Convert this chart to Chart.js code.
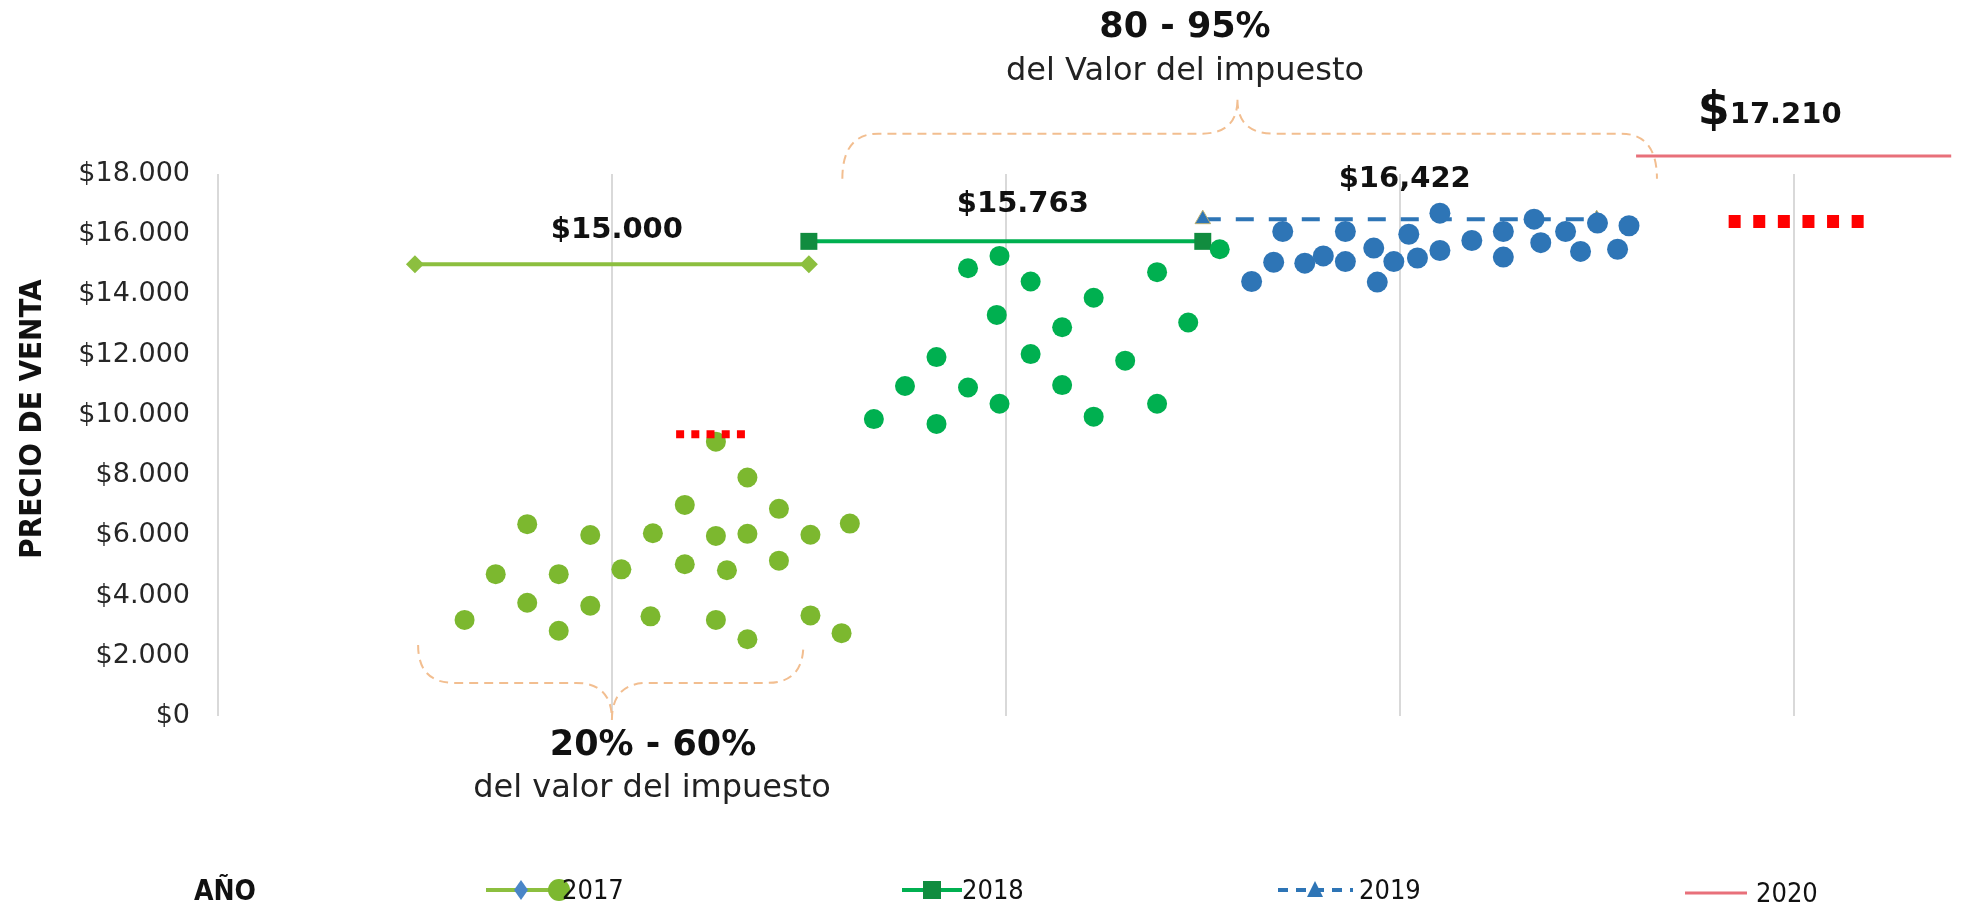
<!DOCTYPE html>
<html>
<head>
<meta charset="utf-8">
<script src="https://cdn.jsdelivr.net/npm/chart.js@4.4.0/dist/chart.umd.min.js"></script>
<style>
  html, body { margin: 0; padding: 0; background: #fff; overflow: hidden; }
  #wrap { width: 1964px; height: 910px; position: relative; }
  canvas { display: block; }
</style>
</head>
<body>
<div id="wrap"><canvas id="myChart"></canvas></div>
<script>
// series years and the average price line for each one
const years = ["2017", "2018", "2019", "2020"];
const lineStart = [0.5, 1.5, 2.5, 3.6];
const lineEnd = [1.5, 2.5, 3.5, 4.4];
const lineValue = [15000, 15763, 16500, 18600];
const lineLabels = ["$15.000", "$15.763", "$16,422", "$17.210"];

// red dotted marks
const redStart = [1.163, 3.835];
const redEnd = [1.339, 4.18];
const redValue = [9360, 16422];

// scatter of sales prices
const x2017 = [0.626, 0.705, 0.785, 0.785, 0.865, 0.865, 0.945, 0.945, 1.024, 1.104, 1.098, 1.185, 1.185,
  1.264, 1.264, 1.264, 1.292, 1.344, 1.344, 1.344, 1.424, 1.424, 1.504, 1.504, 1.583, 1.604];
const y2017 = [3190, 4710, 6370, 3760, 4710, 2830, 6010, 3660, 4870, 6070, 3310, 7010, 5040,
  5980, 3190, 9110, 4840, 7920, 6050, 2550, 6880, 5160, 6020, 3340, 2750, 6390];

const x2018 = [1.665, 1.744, 1.824, 1.824, 1.904, 1.904, 1.984, 1.977, 1.984, 2.063, 2.063, 2.143, 2.143,
  2.223, 2.223, 2.303, 2.384, 2.384, 2.463, 2.543];
const y2018 = [9860, 10960, 11920, 9700, 14870, 10910, 15280, 13320, 10370, 14430, 12020, 12910, 10990,
  13890, 9940, 11800, 14740, 10370, 13070, 15500];

const x2019 = [2.624, 2.680, 2.703, 2.759, 2.806, 2.862, 2.862, 2.934, 2.943, 2.985, 3.023, 3.045, 3.102,
  3.102, 3.183, 3.263, 3.263, 3.341, 3.358, 3.421, 3.459, 3.502, 3.582, 3.553];
const y2019 = [14430, 15070, 16090, 15040, 15280, 16090, 15090, 15540, 14410, 15090, 16000, 15210, 16700,
  15460, 15790, 16090, 15240, 16500, 15720, 16090, 15430, 16370, 16280, 15500];

const yTickValues = [0, 2000, 4000, 6000, 8000, 10000, 12000, 14000, 16000, 18000];
const xGridValues = [0, 1, 2, 3, 4];

function pts(xs, ys) {
  return xs.map((x, i) => ({ x: x, y: ys[i] }));
}

function fmt(v) {
  return "$" + String(v).replace(/\B(?=(\d{3})+(?!\d))/g, ".");
}

const lineColors = ["#8CBF3F", "#00B050", "#2E75B6", "#E8707A"];

// braces, labels, title and legend
const decor = {
  id: "decor",
  afterDraw(chart) {
    const ctx = chart.ctx;
    const xs = chart.scales.x;
    const ys = chart.scales.y;

    function brace(x1, x2, xt, yEnd, yMid, yTip, r) {
      ctx.beginPath();
      ctx.moveTo(x1, yEnd);
      ctx.quadraticCurveTo(x1, yMid, x1 + r, yMid);
      ctx.lineTo(xt - r, yMid);
      ctx.quadraticCurveTo(xt, yMid, xt, yTip);
      ctx.moveTo(xt, yTip);
      ctx.quadraticCurveTo(xt, yMid, xt + r, yMid);
      ctx.lineTo(x2 - r, yMid);
      ctx.quadraticCurveTo(x2, yMid, x2, yEnd);
      ctx.stroke();
    }

    ctx.save();
    ctx.strokeStyle = "#F2BE90";
    ctx.lineWidth = 2;
    ctx.setLineDash([9, 6]);
    brace(xs.getPixelForValue(0.508), xs.getPixelForValue(1.486), xs.getPixelForValue(1.0),
      ys.getPixelForValue(2360), ys.getPixelForValue(1100), ys.getPixelForValue(-130), 36);
    brace(xs.getPixelForValue(1.585), xs.getPixelForValue(3.653), xs.getPixelForValue(2.588),
      ys.getPixelForValue(17840), ys.getPixelForValue(19340), ys.getPixelForValue(20470), 36);
    ctx.restore();

    // value labels over each line
    const dx = [5, 17, 5, -24];
    const dy = [34, 37, 40, 43];
    ctx.save();
    ctx.fillStyle = "#111";
    ctx.textBaseline = "middle";
    lineLabels.forEach((t, i) => {
      const cx = xs.getPixelForValue((lineStart[i] + lineEnd[i]) / 2) + dx[i];
      const cy = ys.getPixelForValue(lineValue[i]) - dy[i];
      if (i === 3) {
        ctx.font = "bold 46px 'DejaVu Sans'";
        const w1 = ctx.measureText("$").width;
        ctx.font = "bold 29px 'DejaVu Sans'";
        const w2 = ctx.measureText(t.slice(1)).width;
        const left = cx - (w1 + w2) / 2;
        ctx.textAlign = "left";
        ctx.font = "bold 46px 'DejaVu Sans'";
        ctx.fillText("$", left, cy - 1);
        ctx.font = "bold 29px 'DejaVu Sans'";
        ctx.fillText(t.slice(1), left + w1, cy + 3);
      } else {
        ctx.textAlign = "center";
        ctx.font = "bold 29px 'DejaVu Sans'";
        ctx.fillText(t, cx, cy);
      }
    });

    // range annotations
    ctx.textAlign = "center";
    ctx.font = "bold 35px 'DejaVu Sans'";
    ctx.fillText("80 - 95%", 1185, 28);
    ctx.fillText("20% - 60%", 653, 746);
    ctx.fillStyle = "#222";
    ctx.font = "32px 'DejaVu Sans'";
    ctx.fillText("del Valor del impuesto", 1185, 72);
    ctx.fillText("del valor del impuesto", 652, 789);

    // y axis title
    ctx.save();
    ctx.translate(33, 419);
    ctx.rotate(-Math.PI / 2);
    ctx.fillStyle = "#111";
    ctx.font = "bold 31px 'DejaVu Sans Condensed', 'DejaVu Sans'";
    ctx.fillText("PRECIO DE VENTA", 0, 0);
    ctx.restore();

    // legend
    const ly = 890;
    ctx.fillStyle = "#111";
    ctx.textAlign = "left";
    ctx.font = "bold 28px 'DejaVu Sans Condensed', 'DejaVu Sans'";
    ctx.fillText("AÑO", 194, ly + 3);

    ctx.lineWidth = 4;
    // 2017
    ctx.strokeStyle = lineColors[0];
    ctx.beginPath(); ctx.moveTo(486, ly); ctx.lineTo(560, ly); ctx.stroke();
    ctx.fillStyle = "#4A86C8";
    ctx.beginPath();
    ctx.moveTo(521, ly - 10); ctx.lineTo(528, ly); ctx.lineTo(521, ly + 10); ctx.lineTo(514, ly);
    ctx.closePath(); ctx.fill();
    ctx.fillStyle = "#7CB82F";
    ctx.beginPath(); ctx.arc(559, ly, 11, 0, Math.PI * 2); ctx.fill();
    // 2018
    ctx.strokeStyle = lineColors[1];
    ctx.beginPath(); ctx.moveTo(902, ly); ctx.lineTo(962, ly); ctx.stroke();
    ctx.fillStyle = "#118C3F";
    ctx.fillRect(923, ly - 9, 18, 18);
    // 2019
    ctx.strokeStyle = lineColors[2];
    ctx.setLineDash([10, 8]);
    ctx.beginPath(); ctx.moveTo(1278, ly); ctx.lineTo(1353, ly); ctx.stroke();
    ctx.setLineDash([]);
    ctx.fillStyle = "#2E75B6";
    ctx.beginPath(); ctx.moveTo(1315, ly - 9); ctx.lineTo(1323, ly + 7); ctx.lineTo(1307, ly + 7);
    ctx.closePath(); ctx.fill();
    // 2020
    ctx.strokeStyle = lineColors[3];
    ctx.lineWidth = 3;
    ctx.beginPath(); ctx.moveTo(1685, ly + 3); ctx.lineTo(1747, ly + 3); ctx.stroke();

    ctx.fillStyle = "#111";
    ctx.font = "27px 'DejaVu Sans Condensed', 'DejaVu Sans'";
    ctx.fillText(years[0], 562, ly + 2);
    ctx.fillText(years[1], 962, ly + 2);
    ctx.fillText(years[2], 1359, ly + 2);
    ctx.fillText(years[3], 1756, ly + 5);
    ctx.restore();
  }
};

const ctx = document.getElementById("myChart").getContext("2d");

const myChart = new Chart(ctx, {
  type: "scatter",
  data: {
    datasets: [
      {
        label: "marca 1",
        type: "line",
        data: [{ x: redStart[0], y: redValue[0] }, { x: redEnd[0], y: redValue[0] }],
        borderColor: "#FF0000",
        borderWidth: 8,
        borderDash: [8, 7.2],
        borderCapStyle: "butt",
        pointRadius: 0,
        order: 0,
      },
      {
        label: "marca 2",
        type: "line",
        data: [{ x: redStart[1], y: redValue[1] }, { x: redEnd[1], y: redValue[1] }],
        borderColor: "#FF0000",
        borderWidth: 13,
        borderDash: [12, 12.6],
        borderCapStyle: "butt",
        pointRadius: 0,
        order: 0,
      },
      {
        label: "2017 ventas",
        data: pts(x2017, y2017),
        backgroundColor: "#7CB82F",
        borderWidth: 0,
        pointRadius: 10,
        order: 1,
      },
      {
        label: "2018 ventas",
        data: pts(x2018, y2018),
        backgroundColor: "#00B050",
        borderWidth: 0,
        pointRadius: 10,
        order: 1,
      },
      {
        label: "2019 ventas",
        data: pts(x2019, y2019),
        backgroundColor: "#2E75B6",
        borderWidth: 0,
        pointRadius: 10.5,
        order: 1,
      },
      {
        label: years[0],
        type: "line",
        data: [{ x: lineStart[0], y: lineValue[0] }, { x: lineEnd[0], y: lineValue[0] }],
        borderColor: lineColors[0],
        borderWidth: 4,
        pointStyle: "rectRot",
        pointRadius: 9,
        pointBackgroundColor: lineColors[0],
        pointBorderWidth: 0,
        order: 2,
      },
      {
        label: years[1],
        type: "line",
        data: [{ x: lineStart[1], y: lineValue[1] }, { x: lineEnd[1], y: lineValue[1] }],
        borderColor: lineColors[1],
        borderWidth: 4,
        pointStyle: "rect",
        pointRadius: 12,
        pointBackgroundColor: "#118C3F",
        pointBorderWidth: 0,
        order: 2,
      },
      {
        label: years[2],
        type: "line",
        data: [{ x: lineStart[2], y: lineValue[2] }, { x: lineEnd[2], y: lineValue[2] }],
        borderColor: lineColors[2],
        borderWidth: 4,
        borderDash: [18, 15],
        pointStyle: "triangle",
        pointRadius: 9,
        pointBackgroundColor: "#2E75B6",
        pointBorderColor: "#BDB070",
        pointBorderWidth: 1,
        order: 2,
      },
      {
        label: years[3],
        type: "line",
        data: [{ x: lineStart[3], y: lineValue[3] }, { x: lineEnd[3], y: lineValue[3] }],
        borderColor: lineColors[3],
        borderWidth: 3,
        pointRadius: 0,
        clip: false,
        order: 2,
      },
    ],
  },
  options: {
    responsive: true,
    maintainAspectRatio: false,
    animation: false,
    layout: {
      padding: { top: 174, bottom: 194, left: 0, right: 0 },
    },
    plugins: {
      legend: { display: false },
      tooltip: { enabled: false },
    },
    scales: {
      x: {
        type: "linear",
        min: 0,
        max: 4.402,
        afterBuildTicks: (scale) => { scale.ticks = xGridValues.map((v) => ({ value: v })); },
        ticks: { display: false },
        grid: { color: "#D9D9D9", lineWidth: 2, drawTicks: false },
        border: { display: false },
        afterFit: (scale) => { scale.height = 0; },
      },
      y: {
        min: 0,
        max: 18000,
        afterBuildTicks: (scale) => { scale.ticks = yTickValues.map((v) => ({ value: v })); },
        ticks: {
          padding: 20,
          color: "#262626",
          font: { family: "'DejaVu Sans'", size: 27 },
          callback: (v) => fmt(v),
        },
        grid: { display: false },
        border: { display: false },
        afterFit: (scale) => { scale.width = 218; },
      },
    },
  },
  plugins: [decor],
});
</script>
</body>
</html>
